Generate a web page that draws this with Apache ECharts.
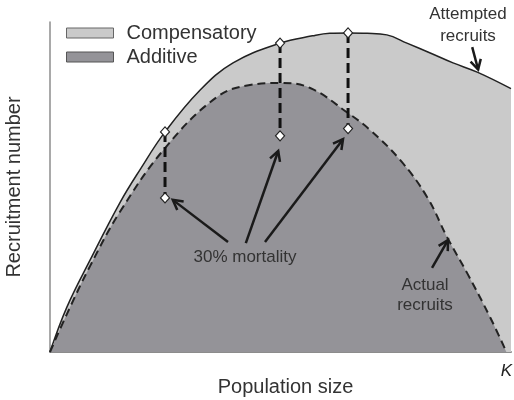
<!DOCTYPE html>
<html>
<head>
<meta charset="utf-8">
<script src="https://cdn.jsdelivr.net/npm/echarts@6/dist/echarts.min.js"></script>
<style>
  html, body { margin: 0; padding: 0; background: #fff; }
  #chart { width: 514px; height: 400px; }
</style>
</head>
<body>
<div id="chart"></div>
<script>
// population size, K = 100
var attemptedX = [0, 3.7, 8.8, 15.3, 19.7, 25.2, 32.9, 40.1, 50.4, 57.5, 61.3, 65.3, 69.5, 73.8, 78.2, 83.3, 88.3, 93.6, 101]
var attemptedY = [0, 13.6, 27.9, 45.2, 55.2, 66.7, 79.4, 87.6, 93.6, 95.8, 96.6, 96.7, 96.6, 96.1, 93.6, 90.6, 87.6, 84.8, 79.8]

var actualX = [0, 3.7, 8.8, 15.3, 25.2, 36.6, 43.8, 50.4, 57.0, 65.3, 70.1, 76.7, 82.6, 87.0, 91.4, 96.4, 100]
var actualY = [0, 11.5, 26.1, 42.4, 61.8, 77.3, 80.9, 81.5, 80.0, 72.4, 67.3, 58.2, 47.0, 34.8, 23.9, 10.6, 0]

// 30% mortality points
var mortX = [25.2, 50.4, 65.3]
var mortTop = [66.7, 93.6, 96.7]
var mortBottom = [46.7, 65.5, 67.7]

// arrows [fromX, fromY, toX, toY] in data units
var mortArrows = [[39.0, 33.3, 26.9, 46.1], [42.9, 33.0, 50.0, 60.9], [47.1, 33.3, 64.2, 64.5]]
var attemptedArrow = [92.5, 92.4, 93.8, 85.6]
var actualArrow = [83.7, 25.5, 87.2, 33.9]

var FONT = 'Liberation Sans, Arial, sans-serif'
var LIGHT = '#cacaca'
var DARK = '#949398'

var zip = function (xs, ys) { return xs.map(function (x, i) { return [x, ys[i]] }) }

var chart = echarts.init(document.getElementById('chart'))

var series = [
  {
    name: 'Compensatory',
    type: 'line',
    data: zip(attemptedX, attemptedY),
    smooth: 0.4,
    symbol: 'none',
    lineStyle: { color: '#222', width: 1.5 },
    areaStyle: { color: LIGHT, opacity: 1 },
    z: 1
  },
  {
    name: 'Additive',
    type: 'line',
    data: zip(actualX, actualY),
    smooth: 0.4,
    symbol: 'none',
    lineStyle: { color: '#222', width: 2, type: [8, 5] },
    areaStyle: { color: DARK, opacity: 1 },
    z: 2
  }
]
mortX.forEach(function (x, i) {
  series.push({
    type: 'line',
    data: [[x, mortTop[i]], [x, mortBottom[i]]],
    symbol: 'diamond',
    symbolSize: [9, 10],
    itemStyle: { color: '#fff', borderColor: '#222', borderWidth: 1.2 },
    lineStyle: { color: '#111', width: 3, type: [10, 5] },
    z: 3
  })
})

chart.setOption({
  animation: false,
  textStyle: { fontFamily: FONT },
  grid: { left: 50, right: 3, top: 22, bottom: 48, outerBoundsMode: 'none', containLabel: false },
  legend: {
    orient: 'vertical',
    left: 61,
    top: 18,
    icon: 'rect',
    itemWidth: 47,
    itemHeight: 10,
    itemGap: 4,
    selectedMode: false,
    textStyle: { fontSize: 20, color: '#333', padding: [0, 0, 0, 8] },
    data: [
      { name: 'Compensatory', itemStyle: { color: LIGHT, borderColor: '#666', borderWidth: 1 } },
      { name: 'Additive', itemStyle: { color: DARK, borderColor: '#555', borderWidth: 1 } }
    ]
  },
  xAxis: {
    type: 'value',
    min: 0,
    max: 101,
    interval: 100,
    name: 'Population size',
    nameLocation: 'middle',
    nameGap: 25,
    nameMoveOverlap: false,
    nameTextStyle: { fontSize: 20, color: '#333', padding: [0, 0, 0, 10] },
    axisLine: { lineStyle: { color: '#8c8c8c', width: 2 } },
    axisTick: { show: false },
    splitLine: { show: false },
    axisLabel: {
      margin: 11,
      fontSize: 17,
      fontStyle: 'italic',
      color: '#222',
      formatter: function (v) { return v === 100 ? 'K' : '' }
    }
  },
  yAxis: {
    type: 'value',
    min: 0,
    max: 100,
    name: 'Recruitment number',
    nameLocation: 'middle',
    nameGap: 26,
    nameMoveOverlap: false,
    nameTextStyle: { fontSize: 20, color: '#333' },
    axisLine: { show: true, lineStyle: { color: '#8c8c8c', width: 1.5 } },
    axisTick: { show: false },
    axisLabel: { show: false },
    splitLine: { show: false }
  },
  series: series
})

// arrows drawn from data coordinates
var arrowGraphic = function (a) {
  var p0 = chart.convertToPixel({ gridIndex: 0 }, [a[0], a[1]])
  var p1 = chart.convertToPixel({ gridIndex: 0 }, [a[2], a[3]])
  var ang = Math.atan2(p1[1] - p0[1], p1[0] - p0[0])
  var len = 11
  var spread = 0.5
  var h1 = [p1[0] - len * Math.cos(ang - spread), p1[1] - len * Math.sin(ang - spread)]
  var h2 = [p1[0] - len * Math.cos(ang + spread), p1[1] - len * Math.sin(ang + spread)]
  var style = { stroke: '#1a1a1a', lineWidth: 2.5, fill: null }
  return [
    { type: 'polyline', z: 10, shape: { points: [p0, p1] }, style: style },
    { type: 'polyline', z: 10, shape: { points: [h1, p1, h2] }, style: style }
  ]
}

var graphics = []
mortArrows.concat([attemptedArrow, actualArrow]).forEach(function (a) {
  graphics = graphics.concat(arrowGraphic(a))
})

var label = function (text, x, y, lh) {
  return {
    type: 'text',
    x: x,
    y: y,
    z: 11,
    style: {
      text: text,
      fontFamily: FONT,
      fontSize: 17,
      lineHeight: lh || 20,
      fill: '#333',
      align: 'center',
      verticalAlign: 'middle'
    }
  }
}
graphics.push(label('Attempted\nrecruits', 468, 25, 22))
graphics.push(label('Actual\nrecruits', 425, 295, 20))
graphics.push(label('30% mortality', 245, 257))

chart.setOption({ graphic: graphics })
</script>
</body>
</html>
